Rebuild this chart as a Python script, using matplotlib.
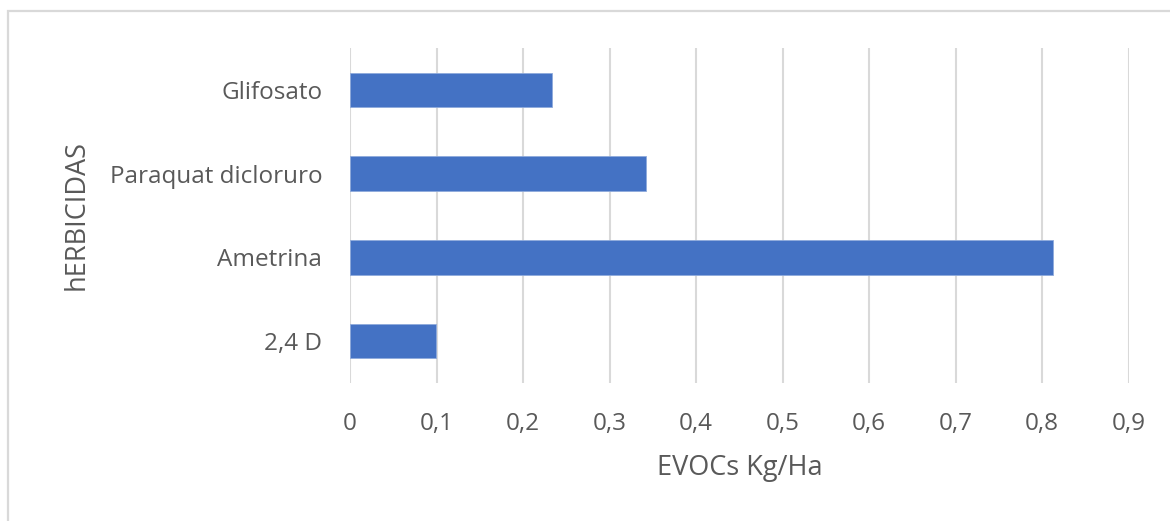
import matplotlib.pyplot as plt
from matplotlib.patches import Rectangle
from matplotlib.ticker import FuncFormatter, MultipleLocator

# data
herbicidas = ["2,4 D", "Ametrina", "Paraquat dicloruro", "Glifosato"]
evocs = [0.099, 0.813, 0.342, 0.2335]

bar_color = "#4472C4"
grid_color = "#D9D9D9"
text_color = "#595959"

plt.rcParams['font.family'] = ['Open Sans', 'DejaVu Sans']

fig = plt.figure(figsize=(11.7, 5.21), dpi=100)
ax = fig.add_axes([350 / 1170, 1 - 383 / 521, (1128.7 - 350) / 1170, 335 / 521])

ax.barh(herbicidas, evocs, height=0.41, color=bar_color, edgecolor="#8FAADC", linewidth=0.6, zorder=3)

ax.set_xlim(0, 0.9)
ax.set_ylim(-0.5, len(herbicidas) - 0.5)
ax.xaxis.set_major_locator(MultipleLocator(0.1))
ax.xaxis.set_major_formatter(FuncFormatter(lambda v, p: f"{v:.1f}".replace(".", ",").replace("0,0", "0")))
ax.grid(axis="x", color=grid_color, linewidth=1.5, zorder=0)
ax.grid(axis="y", visible=False)
for s in ax.spines.values():
    s.set_visible(False)
ax.tick_params(axis="both", length=0, labelsize=17.5, colors=text_color)
ax.tick_params(axis="x", pad=21)
ax.tick_params(axis="y", pad=20)

ax.set_xlabel("EVOCs Kg/Ha", fontsize=19.5, color=text_color, labelpad=13)
ax.set_ylabel("hERBICIDAS", fontsize=19.5, color=text_color, labelpad=14)

# chart frame (cropped at right and bottom)
fig.patches.append(Rectangle((8 / 1170, -0.1), 1.2, 1 - 11 / 521 + 0.1, transform=fig.transFigure,
                             fill=False, edgecolor=grid_color, linewidth=1.6))

fig.savefig("out.png", dpi=100)
